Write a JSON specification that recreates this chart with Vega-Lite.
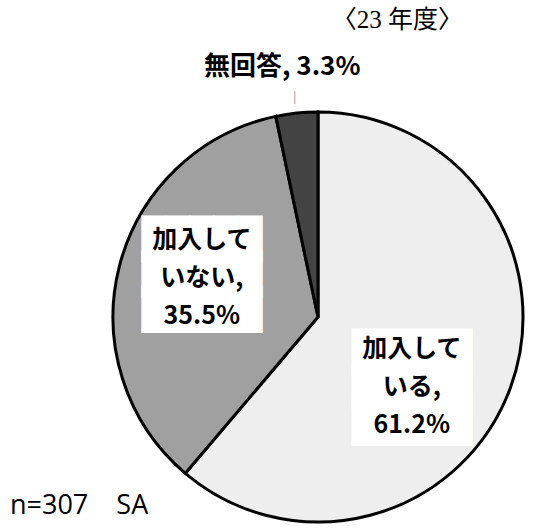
{
  "$schema": "https://vega.github.io/schema/vega-lite/v6.json",
  "padding": {"left": 10, "top": 8, "right": 0, "bottom": 0},
  "background": "white",
  "title": {"text": "n=307\u00a0\u00a0\u00a0\u00a0SA", "orient": "bottom", "anchor": "start", "frame": "group", "dx": -103, "offset": -35, "font": "Open Sans", "fontSize": 27, "fontWeight": "normal", "color": "black"},
  "vconcat": [
    {
      "width": 410,
      "height": 410,
      "title": {"text": "〈23 年度〉", "orient": "top", "anchor": "end", "frame": "group", "dx": -60, "offset": 21, "font": "Liberation Serif, Noto Sans CJK JP", "fontSize": 25, "fontWeight": "normal", "color": "black"},
      "data": {
        "values": [
          {"cat": "加入している", "value": 61.2, "order": 1, "label": "加入して\nいる,\n61.2%"},
          {"cat": "加入していない", "value": 35.5, "order": 2, "label": "加入して\nいない,\n35.5%"},
          {"cat": "無回答", "value": 3.3, "order": 3, "label": "無回答, 3.3%"}
        ]
      },
      "encoding": {
        "theta": {"field": "value", "type": "quantitative", "stack": true},
        "order": {"field": "order", "type": "ordinal"}
      },
      "layer": [
        {
          "mark": {"type": "arc", "stroke": "black", "strokeWidth": 3},
          "encoding": {
            "color": {"field": "cat", "type": "nominal", "scale": {"domain": ["加入している", "加入していない", "無回答"], "range": ["#eeeeee", "#a0a0a0", "#434343"]}, "legend": null}
          }
        },
        {
          "mark": {"type": "text", "font": "DejaVu Sans Mono", "fontSize": 40, "lineHeight": 35, "lineBreak": "\n", "color": "white", "radius": 117, "dx": -16, "dy": -3},
          "encoding": {"text": {"condition": {"test": "datum.cat === '加入している'", "value": "█████\n█████\n█████"}, "value": ""}}
        },
        {
          "mark": {"type": "text", "font": "DejaVu Sans Mono", "fontSize": 40, "lineHeight": 35, "lineBreak": "\n", "color": "white", "radius": 124, "dx": 4, "dy": -46},
          "encoding": {"text": {"condition": {"test": "datum.cat === '加入していない'", "value": "█████\n█████\n█████"}, "value": ""}}
        },
        {
          "mark": {"type": "text", "font": "Noto Sans CJK JP", "fontWeight": "bold", "fontSize": 25, "lineHeight": 38, "lineBreak": "\n", "color": "black", "radius": 117, "dx": -16, "dy": -8},
          "encoding": {"text": {"condition": {"test": "datum.cat === '加入している'", "field": "label", "type": "nominal"}, "value": ""}}
        },
        {
          "mark": {"type": "text", "font": "Noto Sans CJK JP", "fontWeight": "bold", "fontSize": 25, "lineHeight": 38, "lineBreak": "\n", "color": "black", "radius": 124, "dx": 4, "dy": -47},
          "encoding": {"text": {"condition": {"test": "datum.cat === '加入していない'", "field": "label", "type": "nominal"}, "value": ""}}
        },
        {
          "mark": {"type": "text", "font": "Noto Sans CJK JP", "fontWeight": "bold", "fontSize": 26, "color": "black", "radius": 249, "dx": -10, "dy": -2},
          "encoding": {"text": {"condition": {"test": "datum.cat === '無回答'", "field": "label", "type": "nominal"}, "value": ""}}
        },
        {
          "mark": {"type": "text", "font": "DejaVu Sans Mono", "fontSize": 11, "color": "#999999", "radius": 217, "dx": -1, "dy": -3},
          "encoding": {"text": {"condition": {"test": "datum.cat === '無回答'", "value": "│"}, "value": ""}}
        }
      ]
    }
  ],
  "config": {"view": {"stroke": null}}
}
